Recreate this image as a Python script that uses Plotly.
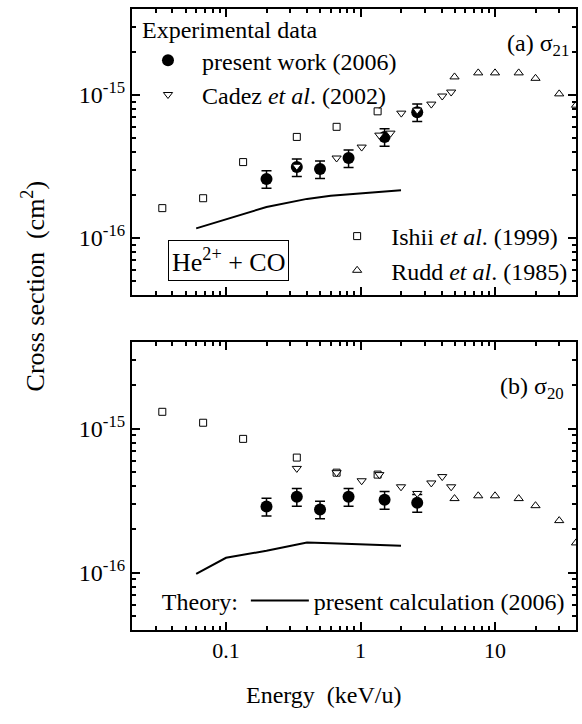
import plotly.graph_objects as go
from plotly.subplots import make_subplots

# ---------------- data ----------------
E_present = [0.2, 0.336, 0.5, 0.815, 1.51, 2.64]
s21_present = [2.59e-16, 3.14e-16, 3.04e-16, 3.63e-16, 5.1e-16, 7.6e-16]
s20_present = [2.88e-16, 3.37e-16, 2.75e-16, 3.37e-16, 3.21e-16, 3.06e-16]
rel_err = 0.14

E_cadez21 = [0.336, 0.664, 1.02, 1.38, 1.67, 2.01, 2.64, 3.36, 4.05, 4.72]
s21_cadez = [3.18e-16, 3.63e-16, 4.33e-16, 5.25e-16, 5.42e-16, 7.48e-16, 7.85e-16, 8.65e-16, 9.85e-16, 1.05e-15]
E_cadez20 = [0.336, 0.664, 1.02, 1.38, 2.0, 2.64, 3.36, 4.05, 4.72]
s20_cadez = [5.3e-16, 4.95e-16, 4.35e-16, 4.8e-16, 3.95e-16, 3.55e-16, 4.2e-16, 4.65e-16, 3.95e-16]

E_ishii21 = [0.0336, 0.0676, 0.134, 0.336, 0.664, 1.34]
s21_ishii = [1.62e-16, 1.9e-16, 3.4e-16, 5.1e-16, 6.0e-16, 7.7e-16]
E_ishii20 = [0.0336, 0.0676, 0.134, 0.336, 0.664, 1.34]
s20_ishii = [1.31e-15, 1.1e-15, 8.5e-16, 6.3e-16, 4.95e-16, 4.8e-16]

E_rudd = [5, 7.5, 10, 15, 20, 30, 40]
s21_rudd = [1.34e-15, 1.43e-15, 1.43e-15, 1.43e-15, 1.31e-15, 1.02e-15, 8.5e-16]
s20_rudd = [3.27e-16, 3.42e-16, 3.42e-16, 3.27e-16, 2.92e-16, 2.3e-16, 1.61e-16]

E_theory = [0.06, 0.1, 0.2, 0.4, 0.6, 2.0]
s21_theory = [1.17e-16, 1.36e-16, 1.65e-16, 1.88e-16, 1.98e-16, 2.16e-16]
s20_theory = [0.98e-16, 1.27e-16, 1.42e-16, 1.62e-16, 1.60e-16, 1.54e-16]

x_ticks = [0.1, 1, 10]
x_ticktext = ["0.1", "1", "10"]
y_ticks = [1e-16, 1e-15]
y_ticktext = ["10<sup>-16</sup>", "10<sup>-15</sup>"]

# ---------------- layout geometry ----------------
W, H = 582, 724
ML, MR, MT, MB = 132, 4, 9, 94
PW, PH = W - ML - MR, H - MT - MB


def px_x(px):
    return (px - ML) / PW


def px_y(py):
    return (H - MB - py) / PH


FONT = "Liberation Serif, Times New Roman, serif"

fig = make_subplots(rows=2, cols=1, vertical_spacing=0.0)
fig.update_layout(
    yaxis=dict(domain=[px_y(295), 1.0]),
    yaxis2=dict(domain=[0.0, px_y(342)]),
)

circle = dict(symbol="circle", size=12, color="black", line=dict(width=0))
tri_dn = dict(symbol="triangle-down", size=8, color="white", line=dict(width=1, color="black"))
tri_up = dict(symbol="triangle-up", size=8, color="white", line=dict(width=1, color="black"))
square = dict(symbol="square", size=7, color="white", line=dict(width=1, color="black"))

for row, (sp, sc, si, sr, st, Ec, Ei) in enumerate(
    [(s21_present, s21_cadez, s21_ishii, s21_rudd, s21_theory, E_cadez21, E_ishii21),
     (s20_present, s20_cadez, s20_ishii, s20_rudd, s20_theory, E_cadez20, E_ishii20)], start=1):
    top = row == 1
    fig.add_trace(go.Scatter(x=E_theory, y=st, mode="lines", line=dict(color="black", width=2),
                             name="present calculation (2006)", showlegend=not top,
                             legend="legend3"), row=row, col=1)
    fig.add_trace(go.Scatter(x=Ei, y=si, mode="markers", marker=square,
                             name="Ishii <i>et al</i>. (1999)", showlegend=top, legend="legend2"),
                  row=row, col=1)
    fig.add_trace(go.Scatter(x=E_rudd, y=sr, mode="markers", marker=tri_up,
                             name="Rudd <i>et al</i>. (1985)", showlegend=top, legend="legend2"),
                  row=row, col=1)
    fig.add_trace(go.Scatter(x=E_present, y=sp, mode="markers", marker=circle,
                             error_y=dict(type="percent", value=rel_err * 100, color="black",
                                          thickness=1.5, width=5),
                             name="present work (2006)", showlegend=top, legend="legend"),
                  row=row, col=1)
    fig.add_trace(go.Scatter(x=Ec, y=sc, mode="markers", marker=tri_dn,
                             name="Cadez <i>et al</i>. (2002)", showlegend=top, legend="legend"),
                  row=row, col=1)

minor_x = [m * 10 ** d for d in (-2, -1, 0, 1) for m in range(2, 10)]
minor_x = [v for v in minor_x if 0.02 <= v <= 40]
minor_y = [m * 10 ** d for d in (-17, -16, -15) for m in range(2, 10)]
minor_y = [v for v in minor_y if 4e-17 <= v <= 4e-15]

xa = dict(type="log", range=[-1.69897, 1.60206], showline=True, linecolor="black", linewidth=2,
          mirror="ticks", ticks="inside", ticklen=8, tickwidth=1.5, tickcolor="black",
          tickvals=x_ticks, ticktext=x_ticktext, showgrid=False, zeroline=False,
          tickfont=dict(family=FONT, size=22, color="black"),
          minor=dict(tickvals=minor_x, ticks="inside", ticklen=4, tickwidth=1.5, tickcolor="black", showgrid=False))
ya = dict(type="log", range=[-16.39794, -14.39794], showline=True, linecolor="black", linewidth=2,
          mirror="ticks", ticks="inside", ticklen=8, tickwidth=1.5, tickcolor="black",
          tickvals=y_ticks, ticktext=y_ticktext, showgrid=False, zeroline=False,
          tickfont=dict(family=FONT, size=24, color="black"),
          minor=dict(tickvals=minor_y, ticks="inside", ticklen=4, tickwidth=1.5, tickcolor="black", showgrid=False))

fig.update_xaxes(**xa)
fig.update_xaxes(showticklabels=False, row=1, col=1)
fig.update_yaxes(**ya)

leg_font = dict(family=FONT, size=24, color="black")
fig.update_layout(
    width=W, height=H,
    margin=dict(l=ML, r=MR, t=MT, b=MB),
    paper_bgcolor="white", plot_bgcolor="white",
    font=dict(family=FONT, color="black"),
    legend=dict(x=px_x(134), y=px_y(7), xanchor="left", yanchor="top",
                title=dict(text="\u00a0Experimental data", font=leg_font),
                font=leg_font, bgcolor="rgba(0,0,0,0)", itemwidth=58,
                tracegroupgap=0, traceorder="normal"),
    legend2=dict(x=px_x(324), y=px_y(214), xanchor="left", yanchor="top",
                 font=leg_font, bgcolor="rgba(0,0,0,0)", itemwidth=58, traceorder="normal"),
    legend3=dict(x=px_x(160), y=px_y(601), xanchor="left", yanchor="middle",
                 orientation="h", title=dict(text="Theory:", font=leg_font, side="left"),
                 font=leg_font, bgcolor="rgba(0,0,0,0)", itemwidth=58),
)

ann_font = dict(family=FONT, size=24, color="black")
fig.add_annotation(x=px_x(573), y=px_y(45), xref="paper", yref="paper", xanchor="right",
                   yanchor="middle", text="(a) σ<sub>21</sub>", showarrow=False, font=ann_font)
fig.add_annotation(x=px_x(568), y=px_y(388), xref="paper", yref="paper", xanchor="right",
                   yanchor="middle", text="(b) σ<sub>20</sub>", showarrow=False, font=ann_font)
fig.add_annotation(x=px_x(229), y=px_y(260), xref="paper", yref="paper", xanchor="center",
                   yanchor="middle", text="He<sup>2+</sup> + CO", showarrow=False,
                   font=dict(family=FONT, size=26, color="black"),
                   bordercolor="black", borderwidth=1, borderpad=3, bgcolor="white")
fig.add_annotation(x=px_x(33), y=px_y(286), xref="paper", yref="paper", xanchor="center",
                   yanchor="middle", text="Cross section  (cm<sup>2</sup>)", textangle=-90,
                   showarrow=False, font=dict(family=FONT, size=26, color="black"))
fig.add_annotation(x=px_x(325), y=px_y(695), xref="paper", yref="paper", xanchor="center",
                   yanchor="middle", text="Energy  (keV/u)", showarrow=False,
                   font=dict(family=FONT, size=24, color="black"))

fig.write_html("out.html")
